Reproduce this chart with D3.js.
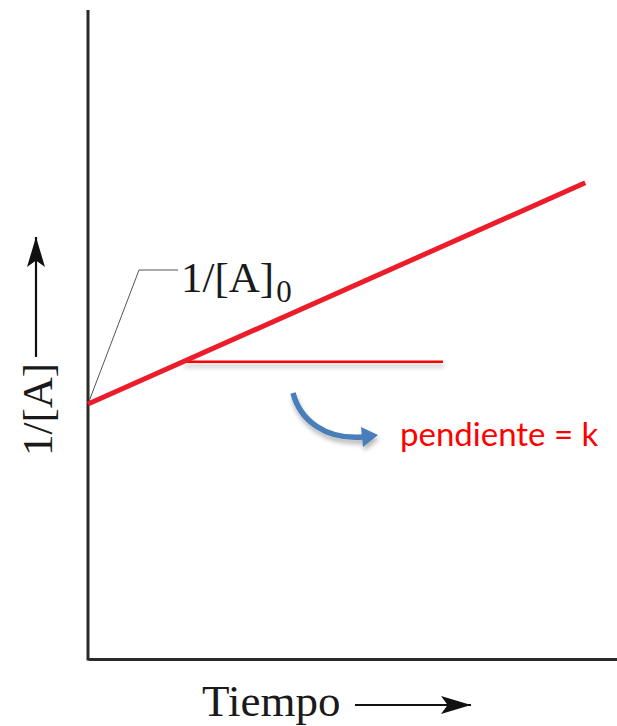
<!DOCTYPE html>
<html>
<head>
<meta charset="utf-8">
<script src="https://cdn.jsdelivr.net/npm/d3@7"></script>
<style>
  html, body { margin: 0; padding: 0; background: #fff; }
  svg { display: block; }
</style>
</head>
<body>
<script>
// Second-order kinetics: 1/[A] grows linearly with time
const time = [0, 9.4];            // time axis (arbitrary units)
const invA = [4.0, 7.47];         // 1/[A] at the start and end of the line
const slopeRun = [1.8, 6.71];     // horizontal leg showing the slope k
const interceptLabel = "1/[A]";
const interceptSub = "0";
const xTitle = "Tiempo";
const yTitle = "1/[A]";
const slopeText = "pendiente = k";

const W = 617, H = 726;
const x0 = 88, y0 = 659;

const x = d3.scaleLinear().domain([0, 10]).range([x0, 617]);
const y = d3.scaleLinear().domain([0, 10]).range([y0, y0 - 637.5]);

const svg = d3.select("body").append("svg").attr("width", W).attr("height", H);
const defs = svg.append("defs");

// soft drop shadow; user-space region so flat shapes keep it
const shadow = defs.append("filter").attr("id", "shadow")
  .attr("filterUnits", "userSpaceOnUse")
  .attr("x", 0).attr("y", 0).attr("width", W).attr("height", H);
shadow.append("feGaussianBlur").attr("in", "SourceAlpha").attr("stdDeviation", 2.5).attr("result", "b");
shadow.append("feOffset").attr("in", "b").attr("dx", 1).attr("dy", 4).attr("result", "o");
shadow.append("feComponentTransfer").attr("in", "o").attr("result", "s")
  .append("feFuncA").attr("type", "linear").attr("slope", 0.3);
const merge = shadow.append("feMerge");
merge.append("feMergeNode").attr("in", "s");
merge.append("feMergeNode").attr("in", "SourceGraphic");

const mk = (id, color, w, h) => {
  defs.append("marker").attr("id", id)
    .attr("viewBox", `0 0 ${w} ${h}`).attr("refX", w).attr("refY", h / 2)
    .attr("markerWidth", w).attr("markerHeight", h).attr("markerUnits", "userSpaceOnUse")
    .attr("orient", "auto")
    .append("path").attr("d", `M0,0 L${w},${h / 2} L0,${h} L${w * 0.22},${h / 2} Z`).attr("fill", color);
};
mk("blackHead", "#111", 30, 18);

// axes (drawn with d3 axes, ticks suppressed)
svg.append("g").attr("transform", `translate(0,${y0})`)
  .call(d3.axisBottom(x).tickValues([]).tickSizeOuter(0))
  .call(g => g.select(".domain").attr("stroke", "#2a2a2a").attr("stroke-width", 3));
svg.append("g").attr("transform", `translate(${x0},0)`)
  .call(d3.axisLeft(y).tickValues([]).tickSizeOuter(0))
  .call(g => g.select(".domain").attr("stroke", "#2a2a2a").attr("stroke-width", 3)
    .attr("d", `M0,${y(0) + 1.5}V${10}`));

// leader to the intercept label
svg.append("path")
  .attr("d", `M${x(time[0])},${y(invA[0])} L139,270 L178,270`)
  .attr("fill", "none").attr("stroke", "#555").attr("stroke-width", 1);

// slope run
const slopeY = invA[0] + (invA[1] - invA[0]) / (time[1] - time[0]) * slopeRun[0];
svg.append("line")
  .attr("x1", x(slopeRun[0])).attr("x2", x(slopeRun[1]))
  .attr("y1", y(slopeY)).attr("y2", y(slopeY))
  .attr("stroke", "#ff0000").attr("stroke-width", 2.5)
  .attr("filter", "url(#shadow)");

// main line
const line = d3.line().x(d => x(d[0])).y(d => y(d[1]));
svg.append("path")
  .datum(time.map((t, i) => [t, invA[i]]))
  .attr("d", line)
  .attr("fill", "none").attr("stroke", "#ec1c2b").attr("stroke-width", 5)
  .attr("stroke-linecap", "butt");

// intercept label
const lab = svg.append("text").attr("x", 181).attr("y", 292)
  .attr("font-family", "Liberation Serif, Times New Roman, serif").attr("font-size", 43).attr("fill", "#1a1a1a");
lab.append("tspan").text(interceptLabel);
lab.append("tspan").attr("font-size", 31).attr("dy", 10).attr("dx", 2).text(interceptSub);

// curved arrow pointing at the slope text
const blue = "#4a7ebb";
svg.append("g").attr("filter", "url(#shadow)").call(g => {
  g.append("path").attr("d", "M293,393 C300,420 325,440 363,437")
    .attr("fill", "none").attr("stroke", blue).attr("stroke-width", 5.5);
  g.append("path").attr("d", "M361,427 L378,435 L363,447 Z").attr("fill", blue);
});

svg.append("text").attr("x", 400).attr("y", 446)
  .attr("font-family", "Lato, Open Sans, sans-serif").attr("font-size", 33)
  .attr("fill", "#ff0000").text(slopeText);

// axis titles with arrows
svg.append("text").attr("x", 202).attr("y", 716)
  .attr("font-family", "Liberation Serif, Times New Roman, serif").attr("font-size", 45)
  .attr("fill", "#1a1a1a").text(xTitle);
svg.append("line").attr("x1", 355).attr("x2", 471).attr("y1", 705).attr("y2", 705)
  .attr("stroke", "#111").attr("stroke-width", 2.2).attr("marker-end", "url(#blackHead)");

svg.append("text")
  .attr("transform", "translate(52,456) rotate(-90)")
  .attr("font-family", "Liberation Serif, Times New Roman, serif").attr("font-size", 43)
  .attr("fill", "#1a1a1a").text(yTitle);
svg.append("line").attr("x1", 36).attr("x2", 36).attr("y1", 357).attr("y2", 237)
  .attr("stroke", "#111").attr("stroke-width", 2.2).attr("marker-end", "url(#blackHead)");
</script>
</body>
</html>
